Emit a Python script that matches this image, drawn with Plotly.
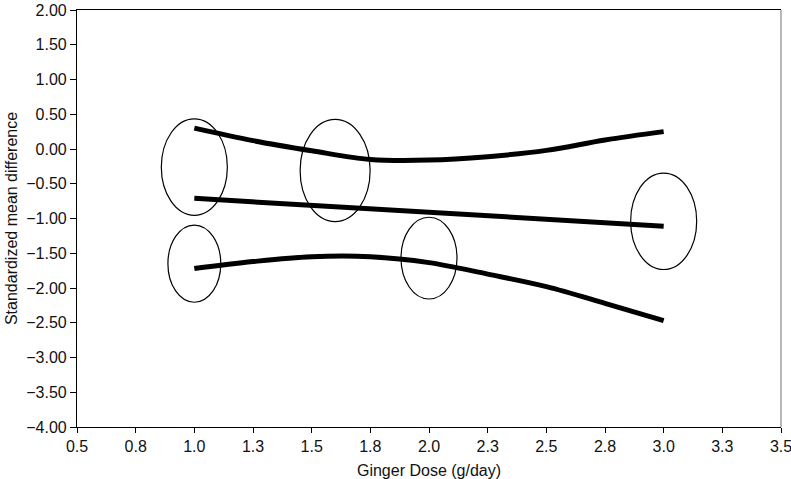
import math
import plotly.graph_objects as go

# meta-regression fit and confidence band
fit_dose = [1.0, 3.0]
fit_smd = [-0.71, -1.11]

band_dose = [1.0, 1.25, 1.5, 1.75, 2.0, 2.25, 2.5, 2.75, 3.0]
upper_smd = [0.30, 0.12, -0.025, -0.15, -0.16, -0.11, -0.02, 0.13, 0.25]
lower_smd = [-1.72, -1.62, -1.55, -1.55, -1.635, -1.80, -1.98, -2.22, -2.47]

# individual studies (bubble size ~ weight)
study_dose = [1.0, 1.0, 1.6, 2.0, 3.0]
study_smd = [-0.26, -1.65, -0.31, -1.57, -1.04]
study_weight = [89, 57, 100, 64, 89]

x_ticks = [0.5, 0.75, 1.0, 1.25, 1.5, 1.75, 2.0, 2.25, 2.5, 2.75, 3.0, 3.25, 3.5]
x_labels = ['0.5', '0.8', '1.0', '1.3', '1.5', '1.8', '2.0', '2.3', '2.5', '2.8', '3.0', '3.3', '3.5']
y_ticks = [2.0, 1.5, 1.0, 0.5, 0.0, -0.5, -1.0, -1.5, -2.0, -2.5, -3.0, -3.5, -4.0]

W, H = 791, 479
M = dict(l=77, r=10, t=10, b=52)
x_range = [0.5, 3.5]
y_range = [-4.0, 2.0]
px_x = (W - M['l'] - M['r']) / (x_range[1] - x_range[0])
px_y = (H - M['t'] - M['b']) / (y_range[1] - y_range[0])

fig = go.Figure()

line_style = dict(color='black', width=5, shape='spline')

for xs, ys in [(band_dose, upper_smd), (fit_dose, fit_smd), (band_dose, lower_smd)]:
    fig.add_trace(go.Scatter(
        x=xs, y=ys, mode='lines', line=line_style,
        showlegend=False, hoverinfo='skip'
    ))

shapes = []
for d, s, w in zip(study_dose, study_smd, study_weight):
    rx_px = 35 * math.sqrt(w / 100)
    ry_px = 1.46 * rx_px
    rx = rx_px / px_x
    ry = ry_px / px_y
    shapes.append(dict(
        type='circle', xref='x', yref='y',
        x0=d - rx, x1=d + rx, y0=s - ry, y1=s + ry,
        line=dict(color='black', width=1.2)
    ))

# right frame edge is lighter grey in the original
shapes.append(dict(type='line', xref='paper', yref='paper', x0=1, x1=1, y0=0, y1=1,
                   line=dict(color='#8a8a8a', width=1.2)))

tick_font = dict(family='Liberation Sans, Arial, sans-serif', size=16, color='#111')
title_font = dict(family='Liberation Sans, Arial, sans-serif', size=16, color='#111')

fig.update_layout(
    width=W, height=H,
    margin=M,
    plot_bgcolor='white',
    paper_bgcolor='white',
    font=tick_font,
    shapes=shapes,
    xaxis=dict(
        range=x_range, tickvals=x_ticks, ticktext=x_labels,
        showgrid=False, zeroline=False, automargin=False,
        ticklabeloverflow='allow',
        showline=True, linecolor='black', linewidth=1.2, mirror=True,
        ticks='outside', ticklen=5, tickcolor='black', tickfont=tick_font,
        title=dict(text='Ginger Dose (g/day)', standoff=12, font=title_font)
    ),
    yaxis=dict(
        range=y_range, tickvals=y_ticks, tickformat='.2f',
        showgrid=False, zeroline=False, automargin=False,
        ticklabeloverflow='allow',
        showline=True, linecolor='black', linewidth=1.2,
        ticks='outside', ticklen=6, tickcolor='black', tickfont=tick_font,
        title=dict(text='Standardized mean difference', standoff=4, font=title_font)
    )
)

fig.write_html("out.html", config={'displayModeBar': False},
               post_script="document.body.style.margin='0';")
